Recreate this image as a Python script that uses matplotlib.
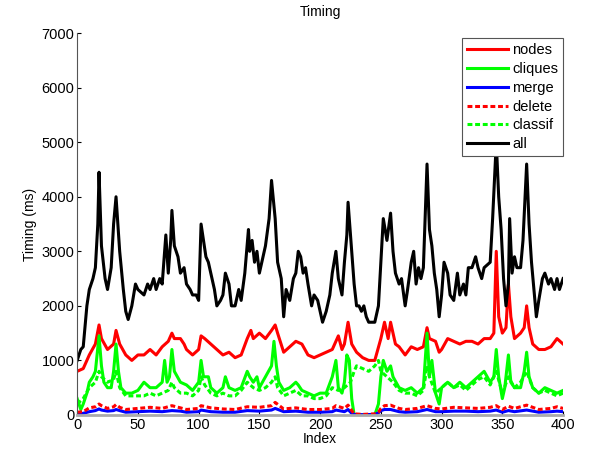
import matplotlib
matplotlib.use("Agg")
from matplotlib import pyplot as plt

# values (index, ms)
all_idx = [0, 3, 5, 8, 10, 13, 15, 17, 18, 20, 23, 25, 28, 30, 32, 35, 38, 40, 42,
           45, 48, 50, 55, 58, 60, 63, 65, 68, 70, 72, 73, 75, 77, 78, 80, 83, 85,
           88, 90, 93, 95, 98, 100, 102, 104, 106, 108, 110, 113, 115, 118, 120,
           122, 125, 127, 130, 133, 135, 138, 141, 142, 144, 146, 148, 150, 152,
           155, 158, 160, 163, 165, 168, 170, 172, 175, 178, 180, 182, 184, 186,
           188, 190, 193, 195, 198, 200, 202, 205, 208, 210, 213, 215, 218, 220,
           222, 223, 226, 228, 230, 232, 234, 236, 238, 240, 242, 245, 248, 250,
           252, 255, 258, 260, 262, 265, 267, 270, 272, 275, 277, 279, 281, 283,
           285, 288, 290, 292, 294, 296, 298, 300, 302, 305, 307, 310, 313, 315,
           318, 320, 322, 325, 328, 330, 333, 335, 340, 342, 345, 347, 349, 351,
           353, 355, 356, 358, 360, 362, 365, 367, 370, 372, 374, 376, 378, 380,
           383, 385, 388, 390, 393, 395, 397, 400]
all_ms = [1000, 1200, 1250, 2000, 2300, 2500, 2700, 3500, 4450, 3100, 2500, 2300,
          2700, 3500, 4000, 3000, 2300, 1900, 1750, 2000, 2400, 2300, 2200, 2400,
          2300, 2500, 2300, 2500, 2400, 3000, 3300, 2600, 3200, 3750, 3100, 2900,
          2600, 2700, 2400, 2300, 2200, 2200, 2100, 3500, 3200, 2900, 2800, 2600,
          2300, 2000, 2100, 2200, 2600, 2400, 2000, 2000, 2300, 2100, 2600, 3400,
          3000, 3200, 2800, 3000, 2600, 2800, 3100, 3600, 4300, 3600, 2800, 2500,
          1800, 2300, 2100, 2500, 2600, 3000, 2900, 2600, 2700, 2400, 2000, 2200,
          2100, 1900, 1700, 1900, 2200, 2600, 3000, 2500, 2200, 2800, 3300, 3900,
          3000, 2400, 2000, 2000, 1900, 2000, 1800, 1700, 1700, 1700, 2000, 2800,
          3600, 3200, 3700, 3000, 2600, 2400, 2500, 2000, 2300, 2800, 3000, 2400,
          2700, 2500, 2700, 4600, 3400, 3100, 2600, 2300, 1800, 2200, 2800, 2600,
          2200, 2100, 2600, 2200, 2400, 2200, 2700, 2700, 2900, 2700, 2500, 2700,
          2800, 3600, 5000, 4000, 3400, 2500, 2000, 2400, 3600, 2600, 2900, 2700,
          2700, 3200, 4600, 3500, 2800, 2300, 1800, 2100, 2500, 2600, 2400, 2500,
          2300, 2500, 2300, 2500]

nodes_idx = [0, 5, 10, 15, 18, 20, 25, 30, 32, 35, 40, 45, 50, 55, 60, 65, 70, 75,
             78, 80, 85, 88, 90, 95, 100, 102, 105, 110, 115, 120, 125, 130, 135,
             140, 143, 145, 150, 155, 160, 163, 165, 170, 175, 180, 185, 190, 195,
             200, 205, 210, 215, 218, 220, 223, 226, 230, 235, 240, 245, 250, 253,
             256, 258, 262, 265, 270, 275, 280, 285, 288, 290, 295, 298, 300, 305,
             310, 315, 320, 325, 330, 335, 340, 343, 345, 347, 350, 353, 355, 357,
             360, 365, 368, 370, 372, 375, 380, 385, 390, 395, 400]
nodes_ms = [800, 850, 1100, 1300, 1650, 1400, 1200, 1300, 1550, 1300, 1100, 1000,
            1100, 1100, 1200, 1100, 1250, 1350, 1500, 1400, 1400, 1300, 1200, 1100,
            1200, 1450, 1400, 1300, 1200, 1100, 1150, 1050, 1100, 1400, 1550, 1400,
            1500, 1400, 1550, 1650, 1500, 1150, 1250, 1350, 1300, 1100, 1050, 1100,
            1150, 1200, 1450, 1200, 1300, 1700, 1300, 1150, 1050, 1000, 1000, 1400,
            1700, 1400, 1700, 1300, 1250, 1100, 1250, 1200, 1250, 1600, 1400, 1350,
            1150, 1200, 1400, 1350, 1300, 1350, 1350, 1300, 1400, 1400, 1500, 3000,
            1800, 1500, 1600, 2400, 1800, 1400, 1500, 1600, 2000, 1600, 1300, 1200,
            1200, 1250, 1400, 1300]

cliques_idx = [0, 3, 5, 8, 10, 13, 15, 18, 20, 22, 25, 28, 30, 32, 34, 36, 40, 45,
               50, 55, 60, 65, 70, 72, 74, 76, 78, 80, 85, 90, 95, 100, 102, 104,
               108, 110, 115, 120, 122, 125, 130, 135, 140, 142, 145, 148, 150, 155,
               160, 162, 164, 166, 170, 175, 180, 182, 185, 190, 195, 200, 205, 210,
               213, 215, 218, 220, 222, 224, 226, 228, 235, 245, 248, 250, 252, 255,
               258, 260, 265, 270, 275, 280, 285, 288, 290, 292, 295, 298, 300, 305,
               310, 315, 320, 325, 330, 335, 340, 343, 345, 347, 350, 352, 355, 357,
               360, 365, 368, 370, 372, 375, 380, 385, 390, 395, 400]
cliques_ms = [300, 100, 200, 400, 600, 700, 800, 1450, 900, 600, 500, 500, 800, 1300,
              800, 500, 400, 400, 450, 600, 500, 500, 600, 1000, 600, 700, 1200, 800,
              600, 550, 450, 600, 1000, 700, 700, 500, 400, 500, 700, 500, 450, 500,
              800, 700, 600, 700, 500, 700, 900, 1350, 900, 600, 450, 500, 600, 550,
              450, 400, 350, 400, 400, 700, 1000, 500, 400, 600, 1100, 1000, 300, 0,
              0, 0, 200, 700, 1000, 800, 900, 700, 500, 450, 500, 400, 500, 1500, 700,
              1000, 400, 200, 500, 600, 500, 600, 500, 600, 700, 800, 600, 700, 1200,
              700, 300, 500, 1100, 600, 500, 500, 800, 1150, 700, 500, 400, 500, 450,
              400, 450]

classif_idx = [0, 5, 10, 15, 18, 20, 25, 30, 32, 35, 40, 45, 50, 55, 60, 65, 70, 75,
               78, 80, 85, 90, 95, 100, 102, 105, 110, 115, 120, 125, 130, 135, 140,
               145, 150, 155, 160, 163, 165, 170, 175, 180, 185, 190, 195, 200, 205,
               210, 215, 220, 225, 228, 230, 235, 240, 245, 248, 250, 255, 260, 265,
               270, 275, 280, 285, 288, 290, 295, 300, 305, 310, 315, 320, 325, 330,
               335, 340, 345, 350, 355, 360, 365, 370, 375, 380, 385, 390, 395, 400]
classif_ms = [200, 300, 500, 600, 800, 700, 600, 650, 800, 500, 350, 350, 350, 350,
              400, 350, 400, 450, 600, 500, 400, 400, 350, 450, 700, 550, 400, 350,
              400, 350, 350, 450, 600, 500, 450, 500, 600, 700, 500, 350, 400, 450,
              350, 350, 300, 300, 350, 500, 450, 500, 600, 800, 900, 850, 800, 900,
              1000, 800, 700, 600, 450, 400, 400, 350, 450, 900, 700, 400, 500, 600,
              500, 550, 450, 550, 650, 700, 550, 800, 400, 700, 500, 600, 800, 500,
              400, 450, 400, 350, 400]

small_idx = [0, 5, 10, 15, 18, 20, 25, 30, 32, 35, 40, 50, 60, 70, 78, 85, 90, 100,
             102, 110, 120, 130, 140, 150, 160, 163, 170, 180, 190, 200, 210, 213,
             220, 223, 226, 228, 235, 245, 248, 250, 253, 258, 265, 270, 280, 288,
             295, 300, 310, 320, 330, 340, 345, 350, 355, 360, 370, 380, 390, 395, 400]
delete_ms = [50, 60, 130, 150, 200, 170, 120, 150, 190, 140, 100, 120, 140, 120, 170,
             130, 100, 120, 170, 130, 110, 100, 150, 140, 170, 230, 110, 130, 100, 100,
             120, 170, 120, 180, 80, 20, 10, 20, 50, 120, 170, 180, 120, 100, 120, 170,
             120, 110, 140, 130, 120, 140, 170, 100, 160, 120, 180, 100, 120, 150, 120]
merge_ms = [20, 30, 60, 80, 110, 90, 70, 80, 100, 80, 50, 60, 70, 60, 80, 70, 50, 60,
            90, 60, 50, 50, 80, 70, 90, 120, 60, 70, 50, 50, 60, 90, 60, 100, 30, 10,
            5, 10, 40, 80, 100, 100, 60, 50, 60, 100, 60, 60, 70, 70, 60, 70, 90, 50,
            80, 60, 90, 50, 60, 70, 60]

plt.rcParams['font.family'] = ['Liberation Sans', 'DejaVu Sans']
plt.rcParams['font.size'] = 10

fig = plt.figure(figsize=(5.89, 4.54), dpi=100)
ax = fig.add_axes([0.131, 0.086, 0.825, 0.841])

lw = 2.2
ax.plot(nodes_idx, nodes_ms, color='#ff0000', lw=lw, label='nodes')
ax.plot(cliques_idx, cliques_ms, color='#00ff00', lw=lw, label='cliques')
ax.plot(small_idx, merge_ms, color='#0000ff', lw=lw, label='merge')
ax.plot(small_idx, delete_ms, color='#ff0000', lw=lw, ls=(0, (1.6, 0.9)), label='delete')
ax.plot(classif_idx, classif_ms, color='#00ff00', lw=lw, ls=(0, (1.6, 0.9)), label='classif')
ax.plot(all_idx, all_ms, color='black', lw=lw, label='all')

ax.set_xlim(0, 400)
ax.set_ylim(0, 7000)
ax.set_xticks(range(0, 401, 50))
ax.set_yticks(range(0, 7001, 1000))
ax.tick_params(direction='in', length=3, labelsize=10.5, pad=2)
ax.spines['top'].set_visible(False)
ax.spines['right'].set_visible(False)
ax.spines['left'].set_color('#555555')
ax.spines['bottom'].set_color('#aaaaaa')
ax.spines['bottom'].set_linewidth(2)

ax.set_title('Timing', fontsize=10, pad=12)
ax.set_xlabel('Index', labelpad=0)
ax.set_ylabel('Timing (ms)', labelpad=3)

leg = ax.legend(loc='upper right', bbox_to_anchor=(1.0, 0.987), fancybox=False,
                framealpha=1, edgecolor='#555555', handlelength=2.8,
                handletextpad=0.3, borderpad=0.35, labelspacing=0.33,
                borderaxespad=0.0, fontsize=10.5)
leg.get_frame().set_linewidth(0.8)

fig.savefig('out.png', dpi=100)
